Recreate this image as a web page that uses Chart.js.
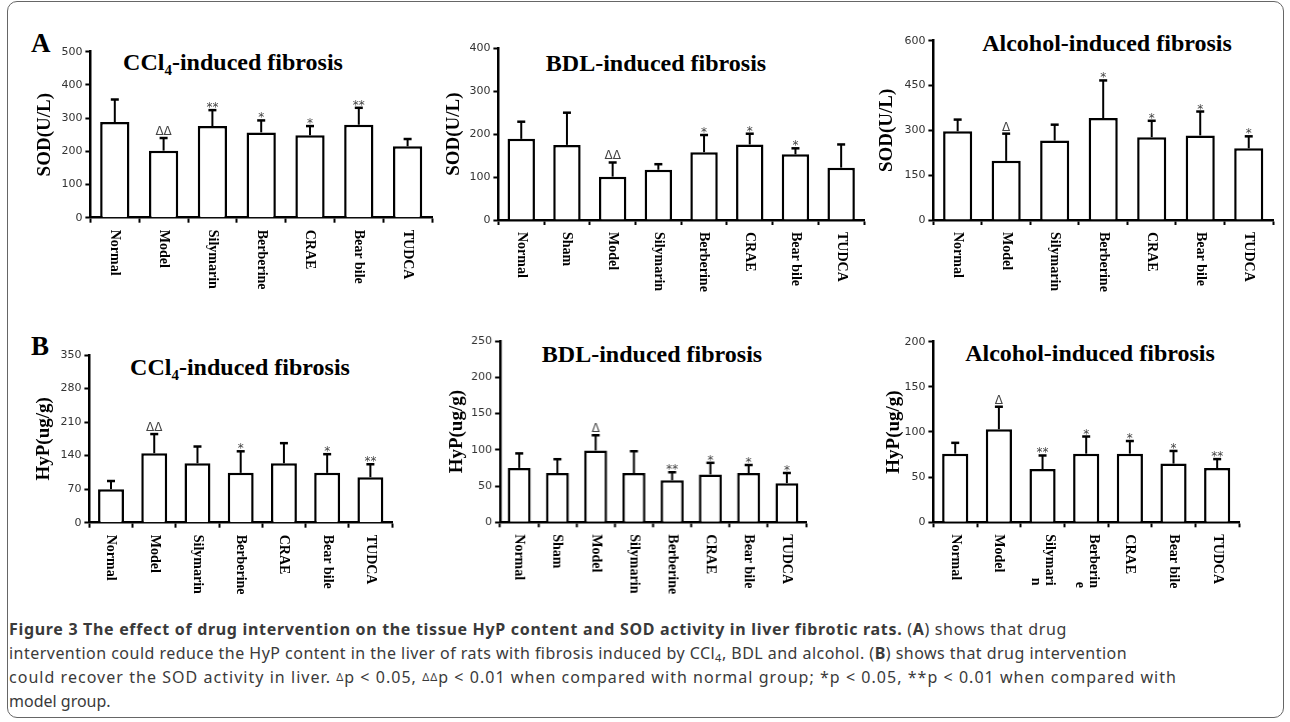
<!DOCTYPE html>
<html>
<head>
<meta charset="utf-8">
<script src="https://cdn.jsdelivr.net/npm/chart.js@4.4.1/dist/chart.umd.min.js"></script>
<style>
  body { margin: 0; background: #fff; width: 1290px; height: 722px; position: relative; overflow: hidden; }
  .frame { position: absolute; left: 7px; top: 1px; width: 1277px; height: 717px; border: 1.5px solid #666; border-radius: 10px; box-sizing: border-box; }
  canvas { position: absolute; }
  .serif { position: absolute; font-family: "Liberation Serif", "Times New Roman", serif; font-weight: bold; color: #000; white-space: nowrap; line-height: 1; }
  .ttl { font-size: 24px; transform: translateX(-50%); }
  .ttl sub { font-size: 15px; vertical-align: -5px; line-height: 0; }
  .letter { font-size: 27px; }
  .caption { position: absolute; left: 9px; top: 618px; font-family: "Noto Sans", sans-serif; font-size: 16px; line-height: 23.7px; color: #3a3a3a; white-space: nowrap; }
  .caption sub { font-size: 11px; line-height: 0; vertical-align: -3px; }
  .caption .d { font-size: 11px; vertical-align: 2px; }
</style>
</head>
<body>
<div class="frame"></div>

<div class="serif letter" style="left:31px; top:30px;">A</div>
<div class="serif letter" style="left:31px; top:333px;">B</div>

<div class="serif ttl" style="left:233px; top:50px;">CCl<sub>4</sub>-induced fibrosis</div>
<div class="serif ttl" style="left:656px; top:51px;">BDL-induced fibrosis</div>
<div class="serif ttl" style="left:1107px; top:31px;">Alcohol-induced fibrosis</div>
<div class="serif ttl" style="left:240px; top:355px;">CCl<sub>4</sub>-induced fibrosis</div>
<div class="serif ttl" style="left:652px; top:342px;">BDL-induced fibrosis</div>
<div class="serif ttl" style="left:1090px; top:341px;">Alcohol-induced fibrosis</div>

<canvas id="a1"></canvas>
<canvas id="a2"></canvas>
<canvas id="a3"></canvas>
<canvas id="b1"></canvas>
<canvas id="b2"></canvas>
<canvas id="b3"></canvas>

<div class="caption">
<span class="ln" data-right="1067"><b>Figure 3 The effect of drug intervention on the tissue HyP content and SOD activity in liver fibrotic rats.</b> (<b>A</b>) shows that drug</span><br>
<span class="ln" data-right="1127">intervention could reduce the HyP content in the liver of rats with fibrosis induced by CCl<sub>4</sub>, BDL and alcohol. (<b>B</b>) shows that drug intervention</span><br>
<span class="ln" data-right="1177">could recover the SOD activity in liver. <span class="d">Δ</span>p &lt; 0.05, <span class="d">ΔΔ</span>p &lt; 0.01 when compared with normal group; *p &lt; 0.05, **p &lt; 0.01 when compared with</span><br>
<span>model group.</span>
</div>

<script>
// categories
const catsCcl4 = ['Normal', 'Model', 'Silymarin', 'Berberine', 'CRAE', 'Bear bile', 'TUDCA'];
const catsBdl = ['Normal', 'Sham', 'Model', 'Silymarin', 'Berberine', 'CRAE', 'Bear bile', 'TUDCA'];
const catsAlc = ['Normal', 'Model', 'Silymarin', 'Berberine', 'CRAE', 'Bear bile', 'TUDCA'];
const catsAlcHyp = ['Normal', 'Model', ['Silymari', 'n'], ['Berberin', 'e'], 'CRAE', 'Bear bile', 'TUDCA'];

// A: SOD (U/L)
const sodCcl4Mean = [288, 202, 276, 257, 248, 280, 215];
const sodCcl4Err  = [68, 38, 48, 36, 28, 51, 22];
const sodCcl4Sig  = ['', 'ΔΔ', '**', '*', '*', '**', ''];

const sodBdlMean = [189, 175, 101, 117, 158, 176, 153, 122];
const sodBdlErr  = [40, 75, 33, 13, 40, 25, 14, 54];
const sodBdlSig  = ['', '', 'ΔΔ', '', '*', '*', '*', ''];

const sodAlcMean = [297, 198, 266, 341, 277, 283, 240];
const sodAlcErr  = [39, 91, 53, 126, 55, 80, 40];
const sodAlcSig  = ['', 'Δ', '', '*', '*', '*', '*'];

// B: HyP (ug/g)
const hypCcl4Mean = [70, 145, 124, 104, 124, 104, 95];
const hypCcl4Err  = [17, 40, 35, 45, 42, 39, 27];
const hypCcl4Sig  = ['', 'ΔΔ', '', '*', '', '*', '**'];

const hypBdlMean = [75, 68, 99, 68, 58, 66, 68, 54];
const hypBdlErr  = [20, 19, 21, 30, 11, 16, 11, 14];
const hypBdlSig  = ['', '', 'Δ', '', '**', '*', '*', '*'];

const hypAlcMean = [76, 103, 59, 76, 76, 65, 60];
const hypAlcErr  = [12, 25, 15, 19, 14, 14, 10];
const hypAlcSig  = ['', 'Δ', '**', '*', '*', '*', '**'];

// y axis ranges and ticks
const yMax  = { a1: 500, a2: 400, a3: 600, b1: 350, b2: 250, b3: 200 };
const yStep = { a1: 100, a2: 100, a3: 150, b1: 70, b2: 50, b3: 50 };

// where each panel sits on the page
const panels = [
  { id: 'a1', cats: catsCcl4, mean: sodCcl4Mean, err: sodCcl4Err, sig: sodCcl4Sig, unit: 'SOD(U/L)',
    axisX: 90, top: 51.7, bottom: 217.7, right: 432, titleX: 45, cTop: 25, cBottom: 318 },
  { id: 'a2', cats: catsBdl, mean: sodBdlMean, err: sodBdlErr, sig: sodBdlSig, unit: 'SOD(U/L)',
    axisX: 498, top: 48.3, bottom: 220, right: 864, titleX: 454, cTop: 25, cBottom: 318 },
  { id: 'a3', cats: catsAlc, mean: sodAlcMean, err: sodAlcErr, sig: sodAlcSig, unit: 'SOD(U/L)',
    axisX: 933, top: 40.7, bottom: 220, right: 1273, titleX: 887, cTop: 25, cBottom: 318 },
  { id: 'b1', cats: catsCcl4, mean: hypCcl4Mean, err: hypCcl4Err, sig: hypCcl4Sig, unit: 'HyP(ug/g)',
    axisX: 89, top: 355, bottom: 522.7, right: 392, titleX: 44, cTop: 325, cBottom: 612 },
  { id: 'b2', cats: catsBdl, mean: hypBdlMean, err: hypBdlErr, sig: hypBdlSig, unit: 'HyP(ug/g)',
    axisX: 500, top: 341, bottom: 522.3, right: 806, titleX: 457.5, cTop: 325, cBottom: 612 },
  { id: 'b3', cats: catsAlcHyp, mean: hypAlcMean, err: hypAlcErr, sig: hypAlcSig, unit: 'HyP(ug/g)',
    axisX: 933, top: 341.7, bottom: 522.3, right: 1239, titleX: 894, cTop: 325, cBottom: 612 },
];

const yTitleSize = 19;

function makeChart(p) {
  const left = p.titleX - yTitleSize * 1.2 / 2;
  const width = p.right + 10 - left;
  const height = p.cBottom - p.cTop;
  const canvas = document.getElementById(p.id);
  canvas.width = width;
  canvas.height = height;
  canvas.style.width = width + 'px';
  canvas.style.height = height + 'px';
  canvas.style.left = left + 'px';
  canvas.style.top = p.cTop + 'px';

  const extras = {
    id: 'extras_' + p.id,
    afterDatasetsDraw(chart) {
      const ctx = chart.ctx;
      const xs = chart.scales.x, ys = chart.scales.y;
      p.mean.forEach((m, i) => {
        const x = xs.getPixelForValue(i);
        const y0 = ys.getPixelForValue(m);
        const y1 = ys.getPixelForValue(m + p.err[i]);
        ctx.save();
        ctx.strokeStyle = '#000';
        ctx.lineWidth = 2;
        ctx.beginPath();
        ctx.moveTo(x, y0);
        ctx.lineTo(x, y1);
        ctx.stroke();
        ctx.lineWidth = 2.5;
        ctx.beginPath();
        ctx.moveTo(x - 4, y1);
        ctx.lineTo(x + 4, y1);
        ctx.stroke();
        const s = p.sig[i];
        if (s) {
          ctx.fillStyle = '#444';
          ctx.font = '12px "DejaVu Sans", sans-serif';
          ctx.textAlign = 'center';
          ctx.textBaseline = 'alphabetic';
          const isStar = s.indexOf('*') >= 0;
          ctx.fillText(s, x, isStar ? y1 + 1 : y1 - 3);
        }
        ctx.restore();
      });
    },
    afterDraw(chart) {
      // category names, turned to read downwards
      const ctx = chart.ctx;
      const xs = chart.scales.x;
      ctx.save();
      ctx.fillStyle = '#000';
      ctx.font = 'bold 14px "Liberation Serif", "Times New Roman", serif';
      p.cats.forEach((c, i) => {
        const lines = Array.isArray(c) ? c : [c];
        const longest = Math.max(...lines.map((ln) => ctx.measureText(ln).width));
        const x = xs.getPixelForValue(i);
        ctx.save();
        ctx.translate(x, chart.chartArea.bottom + 12);
        ctx.rotate(Math.PI / 2);
        ctx.textAlign = 'right';
        ctx.textBaseline = 'middle';
        lines.forEach((ln, k) => ctx.fillText(ln, longest, (k - (lines.length - 1) / 2) * 14));
        ctx.restore();
      });
      ctx.restore();
    }
  };

  return new Chart(canvas, {
    type: 'bar',
    data: {
      labels: p.cats,
      datasets: [{
        data: p.mean,
        backgroundColor: '#fff',
        borderColor: '#000',
        borderWidth: 2.5,
        barPercentage: 0.6,
        categoryPercentage: 1,
      }],
    },
    options: {
      responsive: false,
      animation: false,
      devicePixelRatio: 1,
      layout: { padding: { top: p.top - p.cTop, right: 10, left: 0, bottom: 0 } },
      plugins: { legend: { display: false }, tooltip: { enabled: false } },
      scales: {
        x: {
          ticks: { display: false },
          grid: { display: true, drawOnChartArea: false, drawTicks: true, tickLength: 5, tickWidth: 2, color: '#000', offset: true },
          border: { display: true, color: '#000', width: 2.5 },
          afterFit: (s) => { s.height = p.cBottom - p.bottom; },
        },
        y: {
          min: 0,
          max: yMax[p.id],
          ticks: { stepSize: yStep[p.id], color: '#333', padding: 3, font: { family: '"DejaVu Sans", sans-serif', size: 11 } },
          grid: { display: true, drawOnChartArea: false, drawTicks: true, tickLength: 5, tickWidth: 2, color: '#000' },
          border: { display: true, color: '#000', width: 2.5 },
          title: { display: true, text: p.unit, color: '#000', padding: 0,
                   font: { family: '"Liberation Serif", "Times New Roman", serif', size: yTitleSize, weight: 'bold', lineHeight: 1.2 } },
          afterFit: (s) => { s.width = p.axisX - left; },
        },
      },
    },
    plugins: [extras],
  });
}

panels.forEach(makeChart);

// stretch caption lines to the widths they have in the figure
document.querySelectorAll('.caption .ln').forEach((el) => {
  const r = el.getBoundingClientRect();
  const n = el.textContent.length;
  const extra = Number(el.dataset.right) - r.right;
  el.style.letterSpacing = (extra / n) + 'px';
});
</script>
</body>
</html>
